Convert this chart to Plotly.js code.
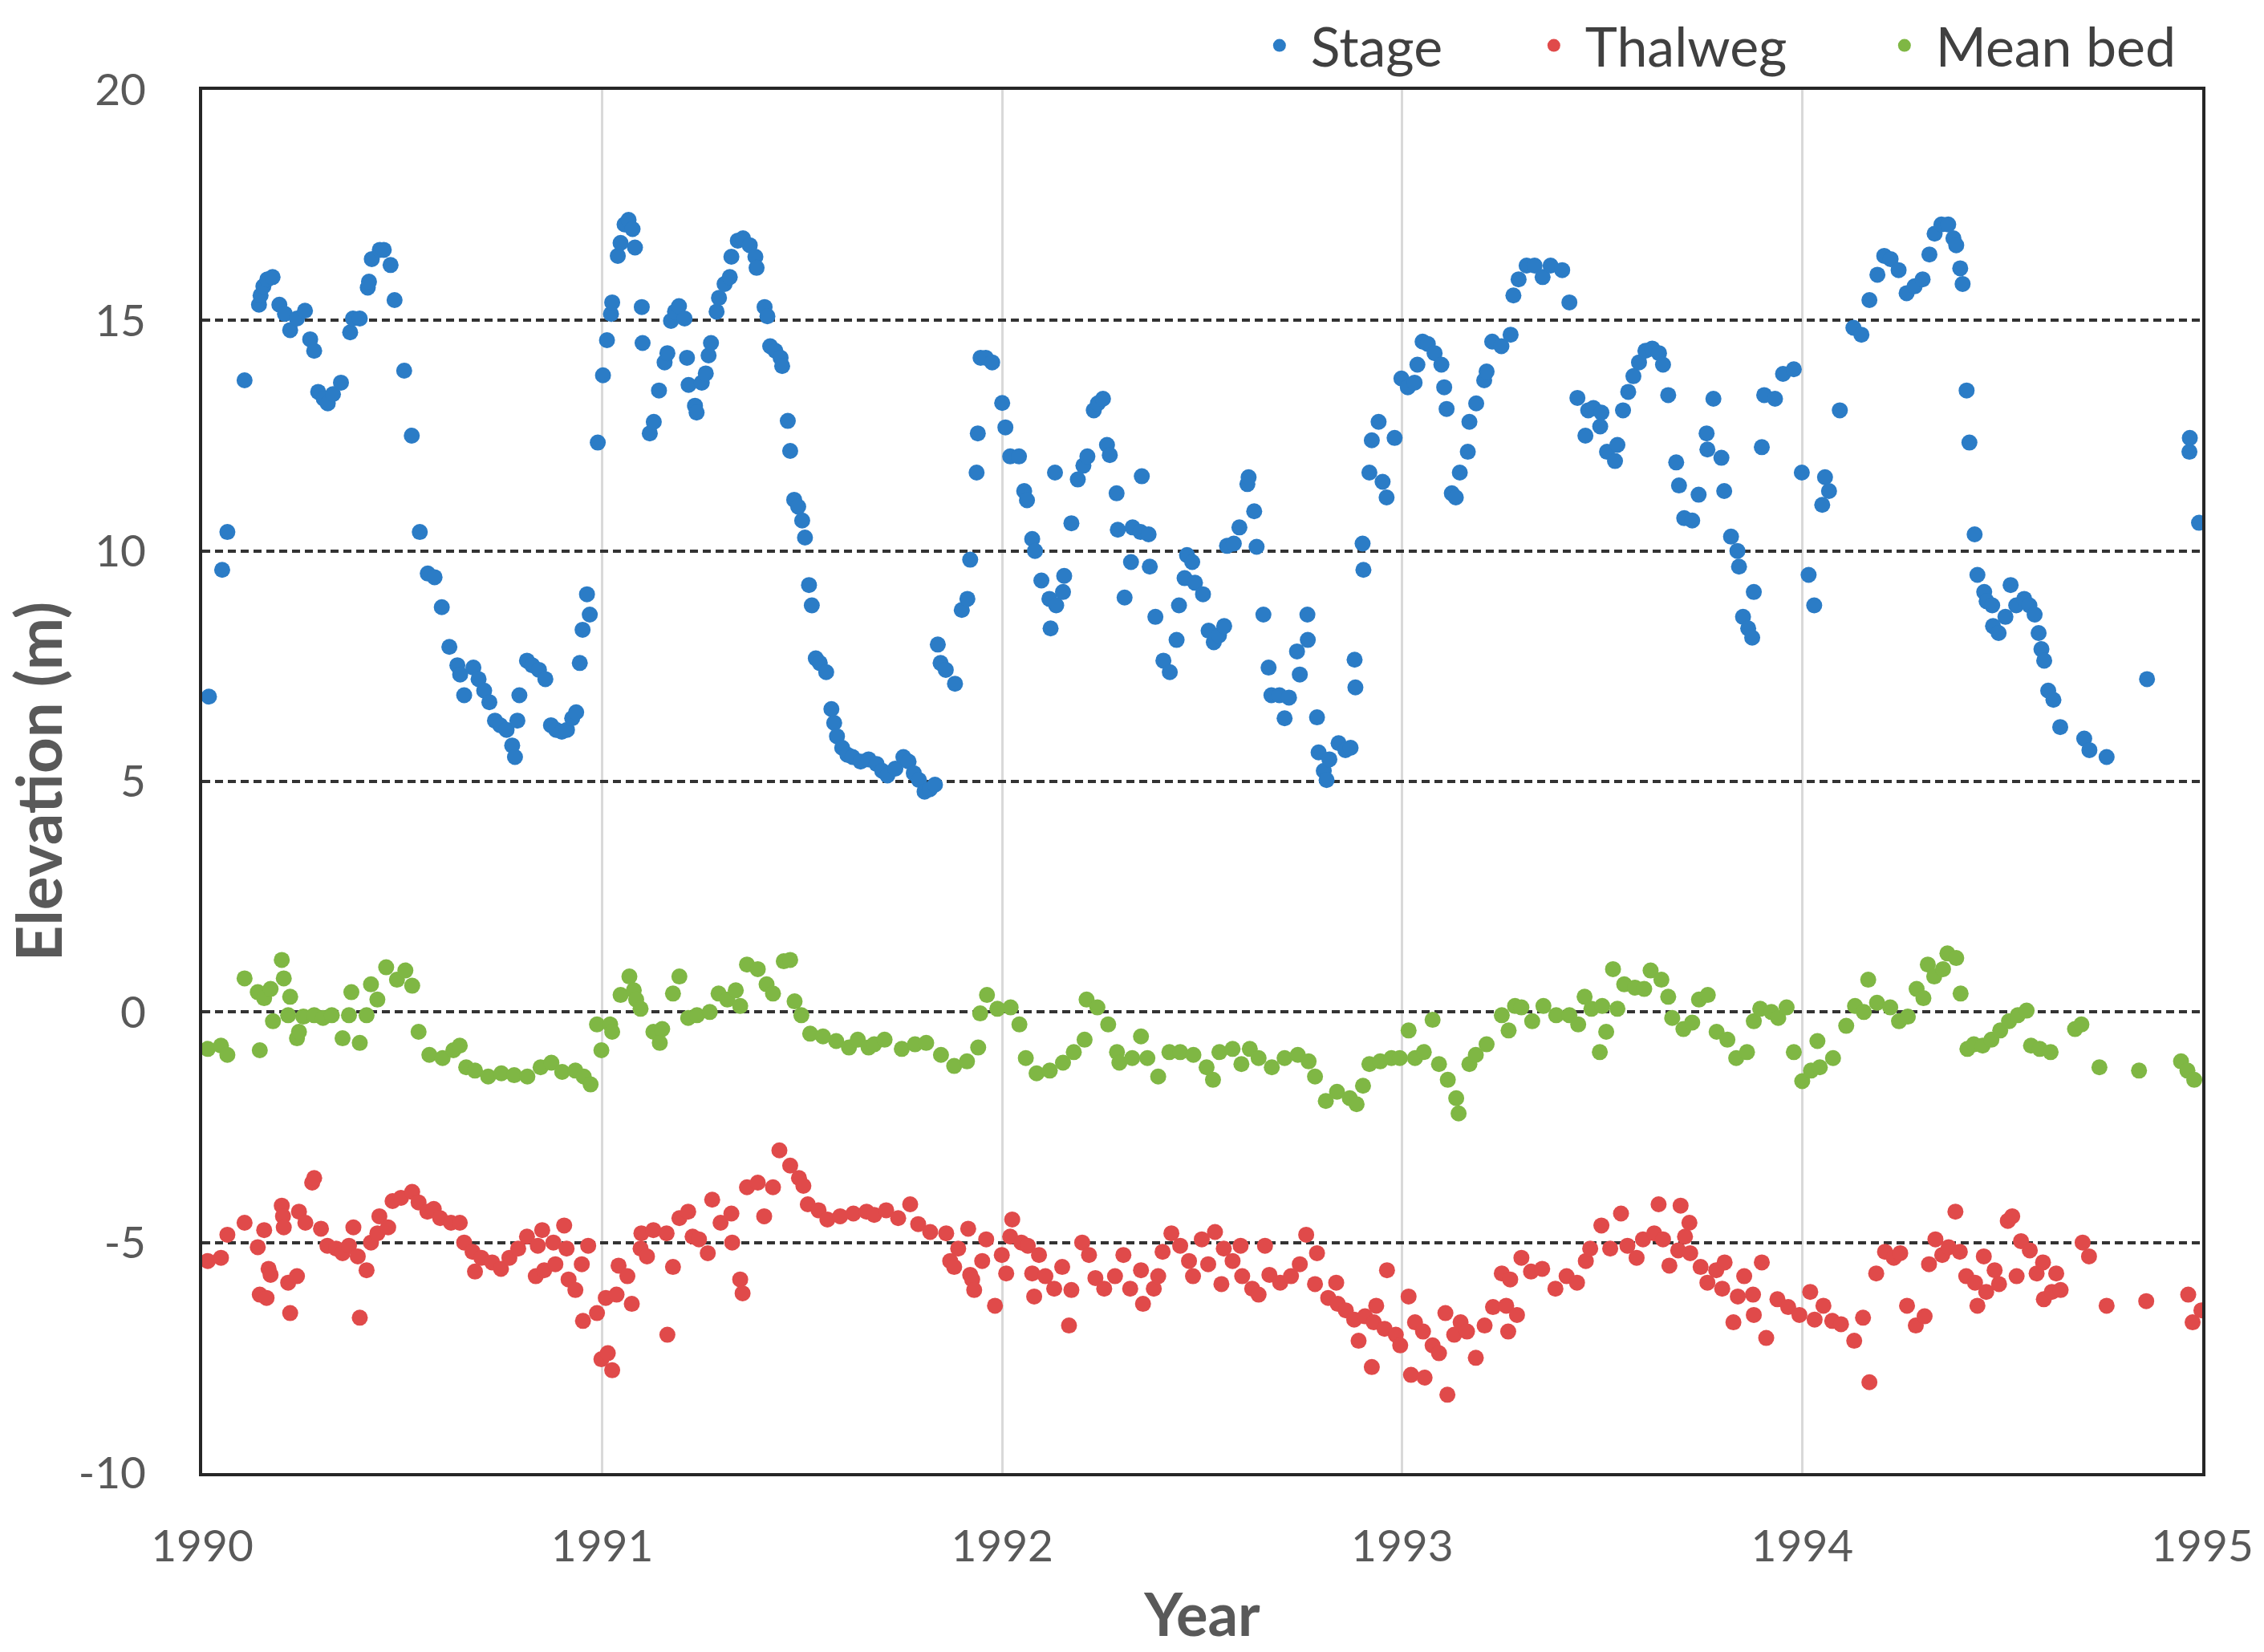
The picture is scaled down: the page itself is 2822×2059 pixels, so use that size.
<!DOCTYPE html>
<html>
<head>
<meta charset="utf-8">
<script src="https://cdn.plot.ly/plotly-3.0.1.min.js"></script>
<style>
  html, body { margin: 0; padding: 0; background: #fff; }
  #chart { width: 2822px; height: 2059px; }
</style>
</head>
<body>
<div id="chart"></div>
<script>
// values (decimal years, metres)
const stageYear = [
  1990.017, 1990.050, 1990.063, 1990.106, 1990.142, 1990.146, 1990.153, 1990.163, 1990.176, 1990.193,
  1990.207, 1990.220, 1990.237, 1990.257, 1990.270, 1990.280, 1990.290, 1990.304, 1990.314, 1990.327,
  1990.347, 1990.370, 1990.377, 1990.394, 1990.414, 1990.417, 1990.424, 1990.444, 1990.454, 1990.471,
  1990.481, 1990.505, 1990.524, 1990.544, 1990.564, 1990.581, 1990.599, 1990.618, 1990.638, 1990.645,
  1990.655, 1990.678, 1990.691, 1990.705, 1990.718, 1990.732, 1990.745, 1990.761, 1990.775, 1990.782,
  1990.788, 1990.793, 1990.812, 1990.825, 1990.842, 1990.858, 1990.872, 1990.885, 1990.899, 1990.912,
  1990.925, 1990.935, 1990.944, 1990.951, 1990.962, 1990.969, 1990.989, 1991.002, 1991.012, 1991.022,
  1991.025, 1991.039, 1991.046, 1991.056, 1991.066, 1991.076, 1991.082, 1991.099, 1991.101, 1991.119,
  1991.129, 1991.142, 1991.156, 1991.163, 1991.172, 1991.182, 1991.192, 1991.206, 1991.212, 1991.216,
  1991.232, 1991.236, 1991.249, 1991.259, 1991.266, 1991.272, 1991.286, 1991.292, 1991.306, 1991.319,
  1991.323, 1991.339, 1991.352, 1991.369, 1991.383, 1991.386, 1991.406, 1991.413, 1991.420, 1991.433,
  1991.446, 1991.450, 1991.464, 1991.470, 1991.480, 1991.490, 1991.500, 1991.507, 1991.517, 1991.524,
  1991.534, 1991.544, 1991.560, 1991.573, 1991.580, 1991.587, 1991.600, 1991.613, 1991.626, 1991.646,
  1991.666, 1991.686, 1991.700, 1991.713, 1991.733, 1991.753, 1991.766, 1991.779, 1991.792, 1991.806,
  1991.819, 1991.832, 1991.839, 1991.846, 1991.859, 1991.882, 1991.899, 1991.913, 1991.920, 1991.936,
  1991.939, 1991.946, 1991.959, 1991.975, 1992.000, 1992.008, 1992.020, 1992.042, 1992.055, 1992.062,
  1992.075, 1992.082, 1992.098, 1992.118, 1992.121, 1992.132, 1992.135, 1992.152, 1992.155, 1992.173,
  1992.189, 1992.203, 1992.213, 1992.229, 1992.239, 1992.252, 1992.262, 1992.269, 1992.286, 1992.289,
  1992.306, 1992.322, 1992.326, 1992.346, 1992.349, 1992.366, 1992.369, 1992.383, 1992.403, 1992.419,
  1992.436, 1992.442, 1992.456, 1992.462, 1992.475, 1992.482, 1992.502, 1992.516, 1992.529, 1992.542,
  1992.555, 1992.562, 1992.579, 1992.593, 1992.613, 1992.616, 1992.630, 1992.636, 1992.653, 1992.666,
  1992.673, 1992.693, 1992.706, 1992.717, 1992.737, 1992.744, 1992.763, 1992.764, 1992.787, 1992.791,
  1992.804, 1992.811, 1992.818, 1992.841, 1992.858, 1992.871, 1992.881, 1992.883, 1992.901, 1992.903,
  1992.918, 1992.924, 1992.941, 1992.951, 1992.961, 1992.981, 1992.998, 1993.014, 1993.031, 1993.038,
  1993.051, 1993.064, 1993.081, 1993.098, 1993.105, 1993.111, 1993.124, 1993.134, 1993.144, 1993.164,
  1993.168, 1993.185, 1993.205, 1993.211, 1993.225, 1993.248, 1993.271, 1993.278, 1993.291, 1993.311,
  1993.331, 1993.351, 1993.371, 1993.400, 1993.418, 1993.438, 1993.458, 1993.465, 1993.478, 1993.495,
  1993.498, 1993.512, 1993.532, 1993.538, 1993.552, 1993.565, 1993.578, 1993.592, 1993.608, 1993.625,
  1993.642, 1993.652, 1993.665, 1993.685, 1993.692, 1993.705, 1993.725, 1993.741, 1993.761, 1993.763,
  1993.778, 1993.798, 1993.805, 1993.822, 1993.838, 1993.842, 1993.852, 1993.865, 1993.875, 1993.879,
  1993.899, 1993.905, 1993.932, 1993.952, 1993.979, 1993.999, 1994.016, 1994.030, 1994.050, 1994.057,
  1994.067, 1994.094, 1994.128, 1994.148, 1994.168, 1994.188, 1994.205, 1994.221, 1994.241, 1994.261,
  1994.281, 1994.301, 1994.318, 1994.331, 1994.348, 1994.365, 1994.378, 1994.385, 1994.395, 1994.401,
  1994.411, 1994.418, 1994.431, 1994.438, 1994.455, 1994.461, 1994.475, 1994.477, 1994.491, 1994.508,
  1994.521, 1994.535, 1994.555, 1994.568, 1994.581, 1994.591, 1994.598, 1994.605, 1994.615, 1994.628,
  1994.645, 1994.705, 1994.718, 1994.761, 1994.862, 1994.968, 1994.969, 1994.992
];
const stageElev = [
  6.84, 9.59, 10.41, 13.70, 15.34, 15.54, 15.74, 15.89, 15.94, 15.34,
  15.14, 14.79, 15.04, 15.21, 14.59, 14.34, 13.45, 13.30, 13.20, 13.40,
  13.65, 14.74, 15.04, 15.04, 15.71, 15.84, 16.33, 16.53, 16.53, 16.20,
  15.44, 13.91, 12.50, 10.41, 9.51, 9.43, 8.78, 7.92, 7.52, 7.32,
  6.87, 7.47, 7.22, 6.97, 6.72, 6.32, 6.22, 6.12, 5.78, 5.53,
  6.32, 6.87, 7.62, 7.52, 7.42, 7.22, 6.22, 6.12, 6.08, 6.12,
  6.37, 6.50, 7.57, 8.29, 9.06, 8.62, 12.35, 13.81, 14.57, 15.14,
  15.39, 16.40, 16.68, 17.08, 17.18, 16.98, 16.58, 15.29, 14.51, 12.55,
  12.80, 13.48, 14.09, 14.29, 14.99, 15.19, 15.31, 15.04, 14.19, 13.60,
  13.15, 13.00, 13.65, 13.85, 14.24, 14.51, 15.19, 15.49, 15.79, 15.94,
  16.38, 16.73, 16.78, 16.63, 16.38, 16.14, 15.29, 15.09, 14.44, 14.34,
  14.19, 14.01, 12.82, 12.17, 11.11, 10.96, 10.66, 10.29, 9.26, 8.82,
  7.67, 7.57, 7.37, 6.57, 6.27, 5.98, 5.73, 5.58, 5.53, 5.43,
  5.48, 5.38, 5.23, 5.13, 5.28, 5.53, 5.43, 5.18, 5.03, 4.78,
  4.83, 4.93, 7.97, 7.57, 7.42, 7.12, 8.72, 8.96, 9.81, 11.70,
  12.55, 14.19, 14.19, 14.09, 13.21, 12.68, 12.05, 12.05, 11.30, 11.10,
  10.26, 10.00, 9.36, 8.96, 8.32, 11.70, 8.82, 9.11, 9.46, 10.60,
  11.55, 11.85, 12.05, 13.05, 13.20, 13.30, 12.30, 12.08, 11.25, 10.46,
  8.99, 9.76, 10.51, 10.41, 11.62, 10.36, 9.66, 8.57, 7.62, 7.37,
  8.07, 8.82, 9.41, 9.91, 9.76, 9.31, 9.06, 8.27, 8.02, 8.17,
  8.37, 10.11, 10.16, 10.51, 11.45, 11.60, 10.86, 10.09, 8.62, 7.47,
  6.87, 6.87, 6.37, 6.82, 7.82, 7.32, 8.62, 8.07, 6.39, 5.63,
  5.23, 5.03, 5.48, 5.83, 5.68, 5.73, 7.64, 7.04, 10.16, 9.59,
  11.70, 12.40, 12.80, 11.50, 11.16, 12.45, 13.74, 13.55, 13.65, 14.04,
  14.54, 14.49, 14.29, 14.04, 13.55, 13.08, 11.25, 11.16, 11.70, 12.15,
  12.80, 13.20, 13.70, 13.89, 14.54, 14.44, 14.69, 15.54, 15.89, 16.19,
  16.19, 15.94, 16.19, 16.09, 15.39, 13.32, 12.50, 13.05, 13.10, 12.70,
  13.00, 12.15, 11.95, 12.30, 13.05, 13.45, 13.79, 14.09, 14.34, 14.39,
  14.29, 14.04, 13.38, 11.92, 11.42, 10.71, 10.66, 11.22, 12.55, 12.20,
  13.30, 12.02, 11.30, 10.31, 10.00, 9.66, 8.57, 8.32, 8.12, 9.11,
  12.25, 13.38, 13.30, 13.84, 13.94, 11.70, 9.48, 8.82, 11.00, 11.60,
  11.30, 13.05, 14.84, 14.69, 15.44, 15.99, 16.40, 16.33, 16.09, 15.59,
  15.74, 15.89, 16.43, 16.88, 17.08, 17.08, 16.78, 16.63, 16.13, 15.79,
  13.48, 12.35, 10.36, 9.48, 9.11, 8.91, 8.82, 8.37, 8.22, 8.57,
  9.26, 8.82, 8.96, 8.82, 8.62, 8.22, 7.87, 7.62, 6.97, 6.77,
  6.18, 5.93, 5.68, 5.53, 7.22, 12.15, 12.45, 10.61
];

const thalwegYear = [
  1990.014, 1990.047, 1990.063, 1990.106, 1990.139, 1990.144, 1990.155, 1990.161, 1990.166, 1990.171,
  1990.199, 1990.202, 1990.204, 1990.215, 1990.220, 1990.237, 1990.242, 1990.258, 1990.275, 1990.280,
  1990.297, 1990.313, 1990.335, 1990.351, 1990.367, 1990.378, 1990.389, 1990.394, 1990.411, 1990.422,
  1990.438, 1990.443, 1990.465, 1990.476, 1990.497, 1990.525, 1990.541, 1990.563, 1990.579, 1990.595,
  1990.622, 1990.644, 1990.655, 1990.676, 1990.682, 1990.698, 1990.725, 1990.747, 1990.768, 1990.790,
  1990.812, 1990.834, 1990.839, 1990.850, 1990.855, 1990.878, 1990.883, 1990.905, 1990.911, 1990.916,
  1990.933, 1990.949, 1990.952, 1990.965, 1990.987, 1990.998, 1991.009, 1991.014, 1991.025, 1991.036,
  1991.041, 1991.063, 1991.074, 1991.096, 1991.098, 1991.112, 1991.128, 1991.161, 1991.163, 1991.177,
  1991.193, 1991.215, 1991.226, 1991.242, 1991.264, 1991.275, 1991.296, 1991.323, 1991.325, 1991.345,
  1991.351, 1991.362, 1991.389, 1991.405, 1991.427, 1991.443, 1991.470, 1991.492, 1991.503, 1991.514,
  1991.541, 1991.563, 1991.595, 1991.628, 1991.661, 1991.680, 1991.710, 1991.740, 1991.770, 1991.790,
  1991.820, 1991.860, 1991.870, 1991.880, 1991.890, 1991.915, 1991.920, 1991.925, 1991.930, 1991.950,
  1991.960, 1991.982, 1991.999, 1992.010, 1992.020, 1992.025, 1992.048, 1992.064, 1992.075, 1992.080,
  1992.092, 1992.108, 1992.130, 1992.150, 1992.167, 1992.173, 1992.200, 1992.217, 1992.233, 1992.255,
  1992.282, 1992.303, 1992.320, 1992.347, 1992.352, 1992.379, 1992.390, 1992.401, 1992.423, 1992.445,
  1992.467, 1992.477, 1992.499, 1992.515, 1992.532, 1992.548, 1992.554, 1992.576, 1992.596, 1992.600,
  1992.625, 1992.641, 1992.657, 1992.668, 1992.695, 1992.722, 1992.744, 1992.760, 1992.782, 1992.787,
  1992.815, 1992.835, 1992.839, 1992.859, 1992.880, 1992.891, 1992.907, 1992.924, 1992.929, 1992.935,
  1992.956, 1992.962, 1992.984, 1992.995, 1993.016, 1993.022, 1993.032, 1993.052, 1993.056, 1993.076,
  1993.092, 1993.108, 1993.113, 1993.130, 1993.146, 1993.162, 1993.184, 1993.206, 1993.227, 1993.249,
  1993.260, 1993.265, 1993.270, 1993.287, 1993.298, 1993.322, 1993.350, 1993.383, 1993.411, 1993.437,
  1993.459, 1993.470, 1993.498, 1993.520, 1993.547, 1993.563, 1993.586, 1993.602, 1993.630, 1993.641,
  1993.652, 1993.668, 1993.690, 1993.696, 1993.707, 1993.718, 1993.720, 1993.746, 1993.763, 1993.785,
  1993.800, 1993.806, 1993.828, 1993.839, 1993.855, 1993.877, 1993.879, 1993.899, 1993.910, 1993.938,
  1993.965, 1993.993, 1994.020, 1994.031, 1994.053, 1994.075, 1994.097, 1994.130, 1994.152, 1994.168,
  1994.185, 1994.207, 1994.229, 1994.245, 1994.262, 1994.284, 1994.306, 1994.317, 1994.333, 1994.350,
  1994.366, 1994.383, 1994.394, 1994.410, 1994.432, 1994.438, 1994.454, 1994.460, 1994.481, 1994.492,
  1994.514, 1994.525, 1994.536, 1994.547, 1994.569, 1994.586, 1994.602, 1994.604, 1994.624, 1994.635,
  1994.646, 1994.701, 1994.717, 1994.761, 1994.860, 1994.965, 1994.976, 1994.998
];
const thalwegElev = [
  -5.40, -5.33, -4.83, -4.57, -5.10, -6.13, -4.73, -6.20, -5.57, -5.70,
  -4.20, -4.43, -4.67, -5.87, -6.53, -5.73, -4.33, -4.57, -3.70, -3.60,
  -4.70, -5.07, -5.13, -5.23, -5.07, -4.67, -5.30, -6.63, -5.60, -5.00,
  -4.80, -4.43, -4.67, -4.10, -4.03, -3.90, -4.13, -4.33, -4.27, -4.47,
  -4.57, -4.57, -5.00, -5.20, -5.63, -5.33, -5.43, -5.57, -5.33, -5.13,
  -4.87, -5.73, -5.07, -4.73, -5.60, -5.00, -5.47, -4.63, -5.13, -5.80,
  -6.03, -5.47, -6.70, -5.07, -6.53, -7.53, -6.20, -7.40, -7.77, -6.13,
  -5.50, -5.73, -6.33, -5.13, -4.80, -5.30, -4.73, -4.80, -7.00, -5.53,
  -4.47, -4.33, -4.87, -4.93, -5.23, -4.07, -4.57, -4.37, -5.00, -5.80,
  -6.10, -3.80, -3.70, -4.43, -3.80, -3.00, -3.33, -3.60, -3.77, -4.17,
  -4.30, -4.50, -4.43, -4.37, -4.33, -4.40, -4.30, -4.47, -4.17, -4.60,
  -4.77, -4.80, -5.40, -5.53, -5.13, -4.70, -5.70, -5.80, -6.03, -5.40,
  -4.93, -6.37, -5.27, -5.67, -4.87, -4.50, -5.00, -5.07, -5.67, -6.17,
  -5.27, -5.73, -6.00, -5.53, -6.80, -6.03, -5.00, -5.27, -5.77, -6.00,
  -5.73, -5.27, -6.00, -5.60, -6.33, -6.00, -5.73, -5.20, -4.80, -5.07,
  -5.40, -5.73, -4.93, -5.47, -4.77, -5.90, -5.13, -5.40, -5.07, -5.73,
  -6.00, -6.13, -5.07, -5.70, -5.87, -5.73, -5.47, -4.83, -5.90, -5.23,
  -6.20, -5.87, -6.33, -6.47, -6.67, -7.13, -6.60, -7.70, -6.73, -6.37,
  -6.87, -5.60, -7.00, -7.23, -6.17, -7.87, -6.73, -6.93, -7.93, -7.23,
  -7.40, -6.53, -8.30, -7.00, -6.73, -6.93, -7.50, -6.80, -6.40, -5.67,
  -6.37, -6.93, -5.80, -6.57, -5.33, -5.63, -5.57, -6.00, -5.73, -5.87,
  -5.40, -5.13, -4.63, -5.13, -4.37, -5.07, -5.33, -4.93, -4.80, -4.17,
  -4.93, -5.50, -5.17, -4.20, -4.87, -4.57, -5.23, -5.53, -5.87, -5.60,
  -6.00, -5.43, -6.73, -6.17, -5.73, -6.13, -6.57, -5.43, -7.07, -6.23,
  -6.40, -6.57, -6.07, -6.67, -6.37, -6.70, -6.77, -7.13, -6.63, -8.03,
  -5.67, -5.20, -5.33, -5.23, -6.37, -6.80, -6.60, -5.47, -4.93, -5.27,
  -5.10, -4.33, -5.20, -5.73, -5.87, -6.37, -5.30, -6.07, -5.60, -5.90,
  -4.53, -4.43, -5.73, -4.97, -5.17, -5.67, -5.43, -6.23, -6.07, -5.67,
  -6.03, -5.00, -5.30, -6.37, -6.27, -6.13, -6.73, -6.47
];

const meanBedYear = [
  1990.014, 1990.047, 1990.063, 1990.106, 1990.139, 1990.144, 1990.155, 1990.171, 1990.177, 1990.199,
  1990.204, 1990.215, 1990.220, 1990.237, 1990.242, 1990.253, 1990.280, 1990.302, 1990.324, 1990.351,
  1990.367, 1990.373, 1990.394, 1990.411, 1990.422, 1990.438, 1990.460, 1990.487, 1990.508, 1990.525,
  1990.541, 1990.568, 1990.601, 1990.628, 1990.644, 1990.660, 1990.682, 1990.715, 1990.748, 1990.780,
  1990.813, 1990.846, 1990.873, 1990.900, 1990.933, 1990.954, 1990.971, 1990.987, 1990.998, 1991.020,
  1991.025, 1991.046, 1991.068, 1991.079, 1991.085, 1991.096, 1991.128, 1991.144, 1991.150, 1991.177,
  1991.193, 1991.215, 1991.237, 1991.269, 1991.291, 1991.313, 1991.334, 1991.345, 1991.362, 1991.389,
  1991.411, 1991.427, 1991.454, 1991.470, 1991.481, 1991.498, 1991.520, 1991.552, 1991.585, 1991.617,
  1991.639, 1991.666, 1991.680, 1991.706, 1991.749, 1991.782, 1991.810, 1991.847, 1991.880, 1991.912,
  1991.940, 1991.945, 1991.962, 1991.988, 1992.021, 1992.043, 1992.059, 1992.086, 1992.119, 1992.152,
  1992.179, 1992.206, 1992.211, 1992.238, 1992.265, 1992.287, 1992.293, 1992.325, 1992.347, 1992.363,
  1992.390, 1992.418, 1992.445, 1992.478, 1992.511, 1992.527, 1992.543, 1992.576, 1992.598, 1992.619,
  1992.641, 1992.674, 1992.706, 1992.739, 1992.766, 1992.782, 1992.809, 1992.837, 1992.869, 1992.886,
  1992.902, 1992.918, 1992.945, 1992.973, 1992.994, 1993.016, 1993.032, 1993.054, 1993.076, 1993.092,
  1993.114, 1993.135, 1993.141, 1993.168, 1993.184, 1993.211, 1993.249, 1993.266, 1993.282, 1993.298,
  1993.325, 1993.353, 1993.385, 1993.418, 1993.440, 1993.456, 1993.473, 1993.494, 1993.500, 1993.510,
  1993.527, 1993.538, 1993.555, 1993.582, 1993.605, 1993.621, 1993.648, 1993.665, 1993.675, 1993.703,
  1993.725, 1993.742, 1993.764, 1993.786, 1993.813, 1993.835, 1993.862, 1993.879, 1993.895, 1993.923,
  1993.940, 1993.961, 1993.979, 1994.000, 1994.022, 1994.038, 1994.044, 1994.077, 1994.110, 1994.132,
  1994.154, 1994.165, 1994.187, 1994.220, 1994.242, 1994.264, 1994.286, 1994.303, 1994.314, 1994.330,
  1994.352, 1994.363, 1994.385, 1994.396, 1994.413, 1994.429, 1994.451, 1994.473, 1994.495, 1994.517,
  1994.539, 1994.561, 1994.572, 1994.594, 1994.621, 1994.682, 1994.698, 1994.743, 1994.842, 1994.947,
  1994.963, 1994.980
];
const meanBedElev = [
  -0.80, -0.73, -0.93, 0.73, 0.43, -0.83, 0.30, 0.50, -0.20, 1.13,
  0.73, -0.07, 0.33, -0.57, -0.43, -0.10, -0.07, -0.13, -0.07, -0.57,
  -0.07, 0.43, -0.67, -0.07, 0.60, 0.27, 0.97, 0.70, 0.90, 0.57,
  -0.43, -0.93, -1.00, -0.83, -0.73, -1.20, -1.27, -1.40, -1.33, -1.37,
  -1.40, -1.20, -1.10, -1.30, -1.27, -1.40, -1.57, -0.27, -0.83, -0.27,
  -0.43, 0.37, 0.77, 0.47, 0.27, 0.07, -0.43, -0.67, -0.37, 0.40,
  0.77, -0.13, -0.07, 0.00, 0.40, 0.27, 0.47, 0.13, 1.03, 0.93,
  0.60, 0.40, 1.10, 1.13, 0.23, -0.07, -0.47, -0.53, -0.63, -0.77,
  -0.60, -0.77, -0.70, -0.60, -0.80, -0.70, -0.67, -0.93, -1.17, -1.07,
  -0.77, -0.03, 0.37, 0.07, 0.10, -0.27, -1.00, -1.33, -1.27, -1.10,
  -0.87, -0.60, 0.27, 0.10, -0.27, -0.87, -1.10, -1.00, -0.53, -1.00,
  -1.40, -0.87, -0.87, -0.93, -1.20, -1.47, -0.87, -0.80, -1.13, -0.80,
  -1.00, -1.20, -1.00, -0.93, -1.07, -1.40, -1.93, -1.73, -1.87, -2.00,
  -1.60, -1.13, -1.07, -1.00, -1.00, -0.40, -1.00, -0.87, -0.17, -1.13,
  -1.47, -1.87, -2.20, -1.13, -0.93, -0.70, -0.07, -0.40, 0.13, 0.10,
  -0.20, 0.13, -0.07, -0.07, -0.27, 0.33, 0.07, -0.87, 0.13, -0.43,
  0.93, 0.07, 0.60, 0.53, 0.50, 0.90, 0.70, 0.33, -0.13, -0.37,
  -0.23, 0.27, 0.37, -0.43, -0.60, -1.00, -0.87, -0.20, 0.07, 0.00,
  -0.13, 0.10, -0.87, -1.50, -1.27, -0.63, -1.20, -1.00, -0.30, 0.13,
  0.00, 0.70, 0.20, 0.10, -0.20, -0.10, 0.50, 0.30, 1.03, 0.77,
  0.93, 1.27, 1.17, 0.40, -0.80, -0.70, -0.73, -0.60, -0.40, -0.20,
  -0.07, 0.03, -0.73, -0.80, -0.87, -0.37, -0.27, -1.20, -1.27, -1.07,
  -1.27, -1.47
];

const yearTicks = [1990, 1991, 1992, 1993, 1994, 1995];
const elevTicks = [-10, -5, 0, 5, 10, 15, 20];

const font = "Lato, 'Open Sans', sans-serif";
const grey = "#595959";

const data = [
  {
    x: stageYear, y: stageElev, type: "scatter", mode: "markers",
    name: "Stage", legendwidth: 259,
    marker: { size: 20, color: "#2b7cc6" }
  },
  {
    x: thalwegYear, y: thalwegElev, type: "scatter", mode: "markers",
    name: "Thalweg", legendwidth: 354,
    marker: { size: 20, color: "#e04a4a" }
  },
  {
    x: meanBedYear, y: meanBedElev, type: "scatter", mode: "markers",
    name: "Mean bed",
    marker: { size: 20, color: "#7fb744" }
  }
];

const layout = {
  width: 2822,
  height: 2059,
  margin: { l: 252, r: 77, t: 112, b: 223, autoexpand: false },
  paper_bgcolor: "#fff",
  plot_bgcolor: "#fff",
  font: { family: font, color: grey, size: 55 },
  showlegend: true,
  legend: {
    orientation: "h",
    x: 0.523, xanchor: "left",
    y: 1.032, yanchor: "middle",
    itemwidth: 68,
    font: { family: font, size: 68, color: "#404040" },
    bgcolor: "rgba(0,0,0,0)"
  },
  xaxis: {
    range: [1990, 1995],
    tickvals: yearTicks,
    ticktext: yearTicks.map(String),
    showgrid: true, gridcolor: "#d9d9d9", gridwidth: 3,
    zeroline: false,
    showline: true, linecolor: "#262626", linewidth: 4, mirror: true,
    ticks: "", ticklabelstandoff: 40,
    tickfont: { family: font, size: 55, color: grey },
    title: { text: "Year", font: { family: font, size: 74, color: grey, weight: "bold" }, standoff: 31 }
  },
  yaxis: {
    range: [-10, 20],
    tickvals: elevTicks,
    ticktext: elevTicks.map(String),
    showgrid: true, gridcolor: "#333", gridwidth: 4, griddash: "10px,6px",
    zeroline: false,
    showline: true, linecolor: "#262626", linewidth: 4, mirror: true,
    ticks: "", ticklabelstandoff: 55,
    tickfont: { family: font, size: 55, color: grey },
    title: { text: "Elevation (m)", font: { family: font, size: 78, color: grey, weight: "bold" }, standoff: 0 }
  }
};

Plotly.newPlot("chart", data, layout, { displayModeBar: false, staticPlot: true });
</script>
</body>
</html>
